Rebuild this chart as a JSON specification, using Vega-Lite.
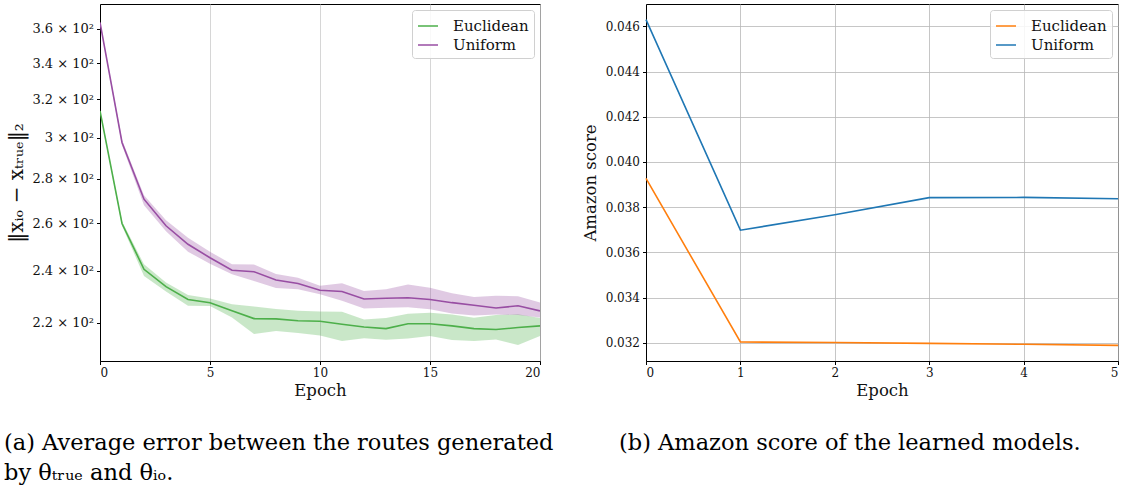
{
  "$schema": "https://vega.github.io/schema/vega-lite/v6.json",
  "background": "white",
  "padding": {"left": 3, "top": 3, "right": 0, "bottom": 5},
  "config": {
    "font": "DejaVu Serif",
    "view": {"stroke": "black", "strokeWidth": 1},
    "axis": {
      "labelFont": "DejaVu Serif", "labelFontSize": 12, "labelColor": "#111",
      "titleFont": "DejaVu Serif", "titleFontSize": 16.5, "titleFontWeight": "normal", "titleColor": "#111",
      "domainColor": "black", "tickColor": "black", "tickSize": 3.5, "labelPadding": 3,
      "gridColor": "#b8b8b8", "gridWidth": 0.8
    },
    "legend": {
      "orient": "top-right", "offset": 6, "symbolType": "stroke", "symbolSize": 400, "symbolStrokeWidth": 1.5,
      "symbolOpacity": 1,
      "labelFont": "DejaVu Serif", "labelFontSize": 15, "labelColor": "#111", "labelOffset": 14,
      "strokeColor": "#d0d0d0", "fillColor": "rgba(255,255,255,0.85)", "cornerRadius": 3,
      "padding": 5, "rowPadding": 0
    },
    "title": {"font": "DejaVu Serif", "fontWeight": "normal", "color": "black"}
  },
  "datasets": {
    "err": [
      {"epoch": 0, "method": "Euclidean", "mean": 313.8, "lower": 313.3, "upper": 314.3},
      {"epoch": 1, "method": "Euclidean", "mean": 259.8, "lower": 258.8, "upper": 260.8},
      {"epoch": 2, "method": "Euclidean", "mean": 240.6, "lower": 237.9, "upper": 242.6},
      {"epoch": 3, "method": "Euclidean", "mean": 233.7, "lower": 231.8, "upper": 235.3},
      {"epoch": 4, "method": "Euclidean", "mean": 228.7, "lower": 226.3, "upper": 230.4},
      {"epoch": 5, "method": "Euclidean", "mean": 227.5, "lower": 226.2, "upper": 229.1},
      {"epoch": 6, "method": "Euclidean", "mean": 224.4, "lower": 221.9, "upper": 226.9},
      {"epoch": 7, "method": "Euclidean", "mean": 221.5, "lower": 215.9, "upper": 226.0},
      {"epoch": 8, "method": "Euclidean", "mean": 221.4, "lower": 216.9, "upper": 225.1},
      {"epoch": 9, "method": "Euclidean", "mean": 220.7, "lower": 216.2, "upper": 224.4},
      {"epoch": 10, "method": "Euclidean", "mean": 220.5, "lower": 215.3, "upper": 224.2},
      {"epoch": 11, "method": "Euclidean", "mean": 219.4, "lower": 213.3, "upper": 224.1},
      {"epoch": 12, "method": "Euclidean", "mean": 218.4, "lower": 214.3, "upper": 221.2},
      {"epoch": 13, "method": "Euclidean", "mean": 217.8, "lower": 213.8, "upper": 221.7},
      {"epoch": 14, "method": "Euclidean", "mean": 219.6, "lower": 214.2, "upper": 223.3},
      {"epoch": 15, "method": "Euclidean", "mean": 219.6, "lower": 215.1, "upper": 223.7},
      {"epoch": 16, "method": "Euclidean", "mean": 218.8, "lower": 213.7, "upper": 223.0},
      {"epoch": 17, "method": "Euclidean", "mean": 217.8, "lower": 213.3, "upper": 221.8},
      {"epoch": 18, "method": "Euclidean", "mean": 217.5, "lower": 213.9, "upper": 222.8},
      {"epoch": 19, "method": "Euclidean", "mean": 218.2, "lower": 211.9, "upper": 223.1},
      {"epoch": 20, "method": "Euclidean", "mean": 218.8, "lower": 215.1, "upper": 221.7},
      {"epoch": 0, "method": "Uniform", "mean": 364.0, "lower": 363.3, "upper": 364.7},
      {"epoch": 1, "method": "Uniform", "mean": 297.6, "lower": 296.2, "upper": 299.0},
      {"epoch": 2, "method": "Uniform", "mean": 270.6, "lower": 267.9, "upper": 272.4},
      {"epoch": 3, "method": "Uniform", "mean": 258.8, "lower": 256.4, "upper": 261.2},
      {"epoch": 4, "method": "Uniform", "mean": 250.9, "lower": 247.8, "upper": 253.7},
      {"epoch": 5, "method": "Uniform", "mean": 245.3, "lower": 242.8, "upper": 247.8},
      {"epoch": 6, "method": "Uniform", "mean": 240.2, "lower": 238.6, "upper": 242.6},
      {"epoch": 7, "method": "Uniform", "mean": 239.6, "lower": 235.9, "upper": 242.5},
      {"epoch": 8, "method": "Uniform", "mean": 236.3, "lower": 233.2, "upper": 238.7},
      {"epoch": 9, "method": "Uniform", "mean": 234.9, "lower": 232.7, "upper": 237.2},
      {"epoch": 10, "method": "Uniform", "mean": 232.3, "lower": 230.7, "upper": 234.0},
      {"epoch": 11, "method": "Uniform", "mean": 231.8, "lower": 228.2, "upper": 235.0},
      {"epoch": 12, "method": "Uniform", "mean": 228.9, "lower": 225.3, "upper": 232.0},
      {"epoch": 13, "method": "Uniform", "mean": 229.2, "lower": 225.6, "upper": 232.7},
      {"epoch": 14, "method": "Uniform", "mean": 229.4, "lower": 225.8, "upper": 234.5},
      {"epoch": 15, "method": "Uniform", "mean": 228.7, "lower": 225.0, "upper": 233.3},
      {"epoch": 16, "method": "Uniform", "mean": 227.5, "lower": 223.4, "upper": 231.1},
      {"epoch": 17, "method": "Uniform", "mean": 226.5, "lower": 222.7, "upper": 229.7},
      {"epoch": 18, "method": "Uniform", "mean": 225.5, "lower": 223.0, "upper": 230.2},
      {"epoch": 19, "method": "Uniform", "mean": 226.3, "lower": 222.8, "upper": 230.0},
      {"epoch": 20, "method": "Uniform", "mean": 224.4, "lower": 221.9, "upper": 227.6}
    ],
    "score": [
      {"epoch": 0, "method": "Euclidean", "score": 0.03927},
      {"epoch": 1, "method": "Euclidean", "score": 0.03203},
      {"epoch": 2, "method": "Euclidean", "score": 0.03201},
      {"epoch": 3, "method": "Euclidean", "score": 0.03197},
      {"epoch": 4, "method": "Euclidean", "score": 0.03193},
      {"epoch": 5, "method": "Euclidean", "score": 0.03188},
      {"epoch": 0, "method": "Uniform", "score": 0.0463},
      {"epoch": 1, "method": "Uniform", "score": 0.03698},
      {"epoch": 2, "method": "Uniform", "score": 0.03766},
      {"epoch": 3, "method": "Uniform", "score": 0.03842},
      {"epoch": 4, "method": "Uniform", "score": 0.03843},
      {"epoch": 5, "method": "Uniform", "score": 0.03837}
    ]
  },
  "resolve": {"scale": {"color": "independent", "x": "independent", "y": "independent"}, "legend": {"color": "independent"}},
  "spacing": 27,
  "hconcat": [
    {
      "width": 440,
      "height": 357,
      "data": {"name": "err"},
      "title": {
        "text": ["(a) Average error between the routes generated", "by θₜᵣᵤₑ and θᵢₒ."],
        "orient": "bottom", "anchor": "start", "frame": "group", "dx": -96, "offset": 33,
        "font": "DejaVu Serif", "fontSize": 22.5, "fontWeight": "normal", "lineHeight": 30,
        "color": "black", "baseline": "top"
      },
      "layer": [
        {
          "mark": {"type": "area", "opacity": 0.3, "clip": true},
          "encoding": {
            "x": {"field": "epoch", "type": "quantitative", "scale": {"domain": [0, 20], "nice": false},
                  "axis": {"values": [0, 5, 10, 15, 20], "grid": true, "gridColor": "#cccccc", "title": "Epoch"}},
            "y": {"field": "lower", "type": "quantitative",
                  "scale": {"type": "log", "domain": [206.3, 375.4], "nice": false},
                  "axis": {"values": [220, 240, 260, 280, 300, 320, 340, 360], "grid": false,
                           "labelExpr": "format(datum.value/100, '.2~g') + ' × 10²'", "labelFontSize": 13,
                           "title": "‖xᵢₒ − xₜᵣᵤₑ‖₂", "titleFontSize": 20, "titlePadding": 5}},
            "y2": {"field": "upper"},
            "color": {"field": "method", "type": "nominal",
                      "scale": {"domain": ["Euclidean", "Uniform"], "range": ["#4daf4a", "#984ea3"]},
                      "legend": {"title": null, "symbolOpacity": 1}}
          }
        },
        {
          "mark": {"type": "line", "strokeWidth": 1.6, "clip": true},
          "encoding": {
            "x": {"field": "epoch", "type": "quantitative"},
            "y": {"field": "mean", "type": "quantitative"},
            "color": {"field": "method", "type": "nominal",
                      "scale": {"domain": ["Euclidean", "Uniform"], "range": ["#4daf4a", "#984ea3"]},
                      "legend": {"title": null, "symbolOpacity": 1}}
          }
        }
      ]
    },
    {
      "width": 472,
      "height": 357,
      "data": {"name": "score"},
      "title": {
        "text": "(b) Amazon score of the learned models.",
        "orient": "bottom", "anchor": "start", "frame": "group", "dx": -27, "offset": 33,
        "font": "DejaVu Serif", "fontSize": 22.5, "fontWeight": "normal", "lineHeight": 30,
        "color": "black", "baseline": "top"
      },
      "mark": {"type": "line", "strokeWidth": 1.6},
      "encoding": {
        "x": {"field": "epoch", "type": "quantitative", "scale": {"domain": [0, 5], "nice": false},
              "axis": {"values": [0, 1, 2, 3, 4, 5], "grid": true, "title": "Epoch"}},
        "y": {"field": "score", "type": "quantitative",
              "scale": {"domain": [0.03119, 0.04699], "nice": false, "zero": false},
              "axis": {"values": [0.032, 0.034, 0.036, 0.038, 0.04, 0.042, 0.044, 0.046], "format": ".3f",
                       "grid": true, "title": "Amazon score", "titlePadding": 7}},
        "color": {"field": "method", "type": "nominal",
                  "scale": {"domain": ["Euclidean", "Uniform"], "range": ["#ff7f0e", "#1f77b4"]},
                  "legend": {"title": null}}
      }
    }
  ]
}
